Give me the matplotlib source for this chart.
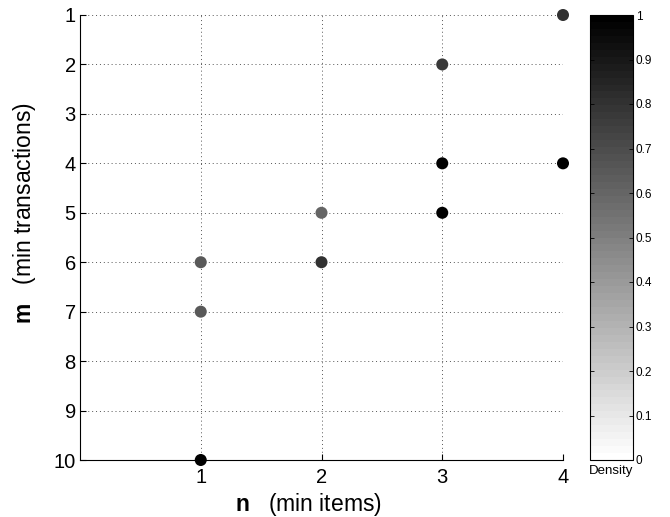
import numpy as np
import matplotlib
import matplotlib.pyplot as plt

plt.rcParams['font.family'] = ['Liberation Sans', 'DejaVu Sans']
plt.rcParams['mathtext.fontset'] = 'custom'
plt.rcParams['mathtext.bf'] = 'Liberation Sans:bold'
plt.rcParams['mathtext.rm'] = 'Liberation Sans'

# DATA
n_items = [4, 3, 3, 4, 3, 2, 2, 1, 1, 1]
m_trans = [1, 2, 4, 4, 5, 5, 6, 6, 7, 10]
density = [0.80, 0.77, 1.0, 1.0, 1.0, 0.60, 0.80, 0.65, 0.65, 1.0]
x_ticks = [1, 2, 3, 4]
y_ticks = list(range(1, 11))
cb_ticks = [0, 0.1, 0.2, 0.3, 0.4, 0.5, 0.6, 0.7, 0.8, 0.9, 1]
cb_labels = ['0', '0.1', '0.2', '0.3', '0.4', '0.5', '0.6', '0.7', '0.8', '0.9', '1']

cmap = plt.get_cmap('gray_r', 64)

W, H = 670, 517
fig = plt.figure(figsize=(W/100, H/100), dpi=100)
ax = fig.add_axes([80/W, 57/H, 483/W, 445/H])
cax = fig.add_axes([590/W, 57/H, 43/W, 445/H])

sc = ax.scatter(n_items, m_trans, c=density, cmap=cmap, vmin=0, vmax=1,
                s=75, edgecolors='none', clip_on=False, zorder=3)

ax.set_xlim(0, 4)
ax.set_ylim(10, 1)
ax.set_xticks(x_ticks)
ax.set_yticks(y_ticks)
ax.tick_params(direction='in', labelsize=14.5, length=4, width=0.8)
ax.tick_params(axis='x', pad=6)
ax.tick_params(axis='y', pad=3)
ax.grid(True, linestyle=(0, (1, 3)), color='#555555', linewidth=0.7)
ax.spines['top'].set_visible(False)
ax.spines['right'].set_visible(False)

ax.set_xlabel(r'$\mathbf{n}$   (min items)', fontsize=16.5)
ax.xaxis.set_label_coords((308 - 80) / 483, -(504 - 460) / 445)
ax.xaxis.label.set_va('center')
ax.set_ylabel(r'$\mathbf{m}$   (min transactions)', fontsize=16.5)
ax.yaxis.set_label_coords(-(80 - 25) / 483, (460 - 213) / 445)
ax.yaxis.label.set_va('center')

cb = fig.colorbar(sc, cax=cax, ticks=cb_ticks)
cb.ax.set_yticklabels(cb_labels)
cb.ax.tick_params(labelsize=8.5, direction='in', length=3, width=0.6,
                  left=True, right=True, pad=2)
cb.outline.set_linewidth(0.8)
cax.text(0.5, -0.012, 'Density', transform=cax.transAxes, ha='center', va='top', fontsize=9.5)

fig.savefig('out.png', dpi=100)
